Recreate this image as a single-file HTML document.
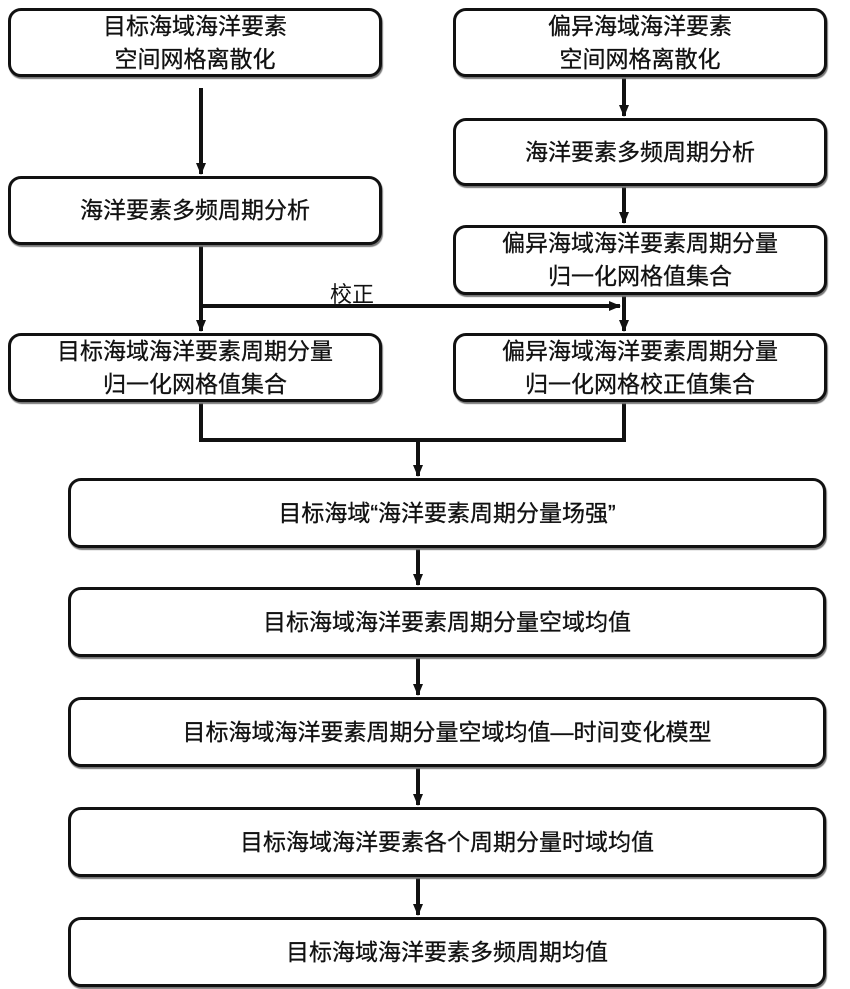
<!DOCTYPE html>
<html><head><meta charset="utf-8"><style>
html,body{margin:0;padding:0;background:#fff;}
body{width:850px;height:989px;position:relative;overflow:hidden;font-family:"Liberation Sans","Noto Sans CJK SC",sans-serif;}
.b{position:absolute;box-sizing:border-box;border:3px solid #111;border-radius:13px;background:#fff;display:flex;align-items:center;justify-content:center;text-align:center;font-size:23px;line-height:33px;color:#111;-webkit-text-stroke:0.3px #111;box-shadow:1px 2px 1px #777;}
svg{position:absolute;left:0;top:0;}
.t{position:absolute;font-size:22px;color:#111;}
</style></head><body>
<svg width="850" height="989">
<defs><marker id="a" markerWidth="12" markerHeight="12" refX="11" refY="6" orient="auto" markerUnits="userSpaceOnUse"><path d="M0,1 L12,6 L0,11 z" fill="#111"/></marker></defs>
<g stroke="#111" stroke-width="4" fill="none">
<line x1="201" y1="88" x2="201" y2="174" marker-end="url(#a)"/>
<line x1="624" y1="76" x2="624" y2="116" marker-end="url(#a)"/>
<line x1="624" y1="186" x2="624" y2="223" marker-end="url(#a)"/>
<line x1="201" y1="245" x2="201" y2="331" marker-end="url(#a)"/>
<line x1="624" y1="295" x2="624" y2="331" marker-end="url(#a)"/>
<line x1="201" y1="306" x2="620" y2="306" marker-end="url(#a)"/>
<polyline points="201,402 201,440 624,440 624,402"/>
<line x1="418" y1="440" x2="418" y2="476" marker-end="url(#a)"/>
<line x1="418" y1="548" x2="418" y2="585" marker-end="url(#a)"/>
<line x1="418" y1="657" x2="418" y2="695" marker-end="url(#a)"/>
<line x1="418" y1="767" x2="418" y2="805" marker-end="url(#a)"/>
<line x1="418" y1="877" x2="418" y2="915" marker-end="url(#a)"/>
</g></svg>
<div class="b" style="left:8px;top:8px;width:374px;height:69px;">目标海域海洋要素<br>空间网格离散化</div>
<div class="b" style="left:453px;top:8px;width:374px;height:69px;">偏异海域海洋要素<br>空间网格离散化</div>
<div class="b" style="left:453px;top:118px;width:374px;height:68px;">海洋要素多频周期分析</div>
<div class="b" style="left:8px;top:176px;width:374px;height:69px;">海洋要素多频周期分析</div>
<div class="b" style="left:453px;top:225px;width:374px;height:70px;">偏异海域海洋要素周期分量<br>归一化网格值集合</div>
<div class="t" style="left:330px;top:277px;">校正</div>
<div class="b" style="left:8px;top:333px;width:374px;height:69px;">目标海域海洋要素周期分量<br>归一化网格值集合</div>
<div class="b" style="left:453px;top:333px;width:374px;height:69px;">偏异海域海洋要素周期分量<br>归一化网格校正值集合</div>
<div class="b" style="left:68px;top:478px;width:758px;height:70px;">目标海域“海洋要素周期分量场强”</div>
<div class="b" style="left:68px;top:587px;width:758px;height:70px;">目标海域海洋要素周期分量空域均值</div>
<div class="b" style="left:68px;top:697px;width:758px;height:70px;">目标海域海洋要素周期分量空域均值—时间变化模型</div>
<div class="b" style="left:68px;top:807px;width:758px;height:70px;">目标海域海洋要素各个周期分量时域均值</div>
<div class="b" style="left:68px;top:917px;width:758px;height:70px;">目标海域海洋要素多频周期均值</div>
</body></html>
